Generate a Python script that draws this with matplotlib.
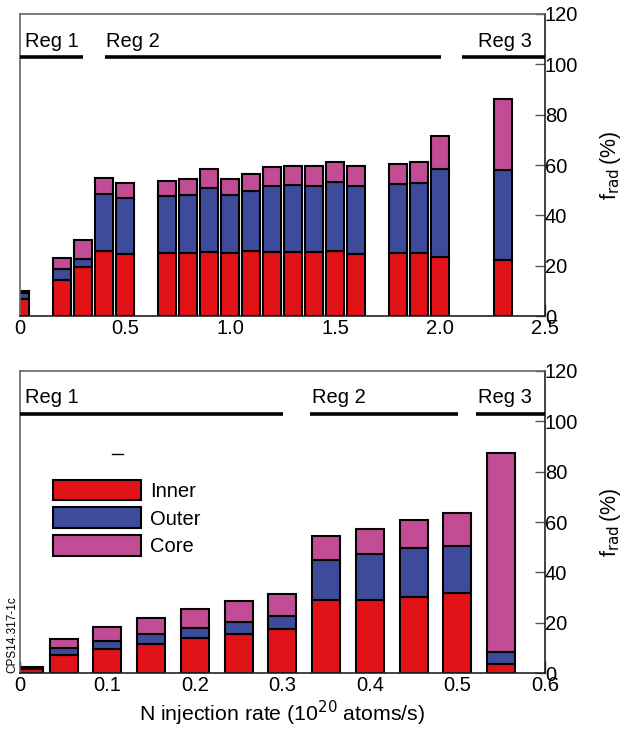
import matplotlib
matplotlib.use("Agg")
import matplotlib.pyplot as plt
import numpy as np
from matplotlib.patches import Patch

plt.rcParams['font.family'] = ['Liberation Sans', 'DejaVu Sans']

# ---------- data: top panel ----------
top_x = [0.0, 0.2, 0.3, 0.4, 0.5, 0.7, 0.8, 0.9, 1.0, 1.1, 1.2, 1.3, 1.4, 1.5, 1.6, 1.8, 1.9, 2.0, 2.3]
top_inner = [6.6, 14.3, 19.6, 25.8, 24.8, 24.9, 25.2, 25.3, 24.9, 25.7, 25.3, 25.6, 25.4, 26.0, 24.6, 24.9, 25.1, 23.4, 22.1]
top_outer = [2.4, 4.5, 3.1, 22.7, 22.1, 22.8, 23.0, 25.7, 23.2, 24.0, 26.2, 26.5, 26.3, 27.1, 26.9, 27.4, 27.9, 35.1, 36.0]
top_core = [0.9, 4.4, 7.4, 6.5, 6.0, 6.1, 6.4, 7.4, 6.5, 6.7, 7.7, 7.6, 8.0, 8.0, 8.2, 8.1, 8.3, 12.9, 28.0]

# ---------- data: bottom panel ----------
bot_x = [0.01, 0.05, 0.10, 0.15, 0.20, 0.25, 0.30, 0.35, 0.40, 0.45, 0.50, 0.55]
bot_inner = [1.6, 7.4, 9.7, 11.8, 13.9, 15.6, 17.5, 28.9, 28.9, 30.4, 32.0, 3.7]
bot_outer = [0.5, 2.7, 3.1, 3.7, 4.2, 4.7, 5.3, 16.1, 18.4, 19.4, 18.5, 4.8]
bot_core = [0.5, 3.7, 5.5, 6.5, 7.3, 8.4, 8.8, 9.6, 10.0, 11.0, 12.9, 79.0]

top_xticks = [0, 0.5, 1.0, 1.5, 2.0, 2.5]
top_xticklabels = ['0', '0.5', '1.0', '1.5', '2.0', '2.5']
bot_xticks = [0, 0.1, 0.2, 0.3, 0.4, 0.5, 0.6]
bot_xticklabels = ['0', '0.1', '0.2', '0.3', '0.4', '0.5', '0.6']
yticks = [0, 20, 40, 60, 80, 100, 120]

top_regions = [("Reg 1", 0.0, 0.30, 0.024), ("Reg 2", 0.405, 2.003, 0.41), ("Reg 3", 2.106, 2.5, 2.18)]
bot_regions = [("Reg 1", 0.0, 0.301, 0.006), ("Reg 2", 0.331, 0.501, 0.334), ("Reg 3", 0.521, 0.6, 0.523)]

series_names = ['Inner', 'Outer', 'Core']
c_inner = '#E11218'
c_outer = '#3E4B9B'
c_core = '#C24D95'
colors = [c_inner, c_outer, c_core]

FS = 14.5

fig = plt.figure(figsize=(6.24, 7.29), dpi=100)
ax1 = fig.add_axes([0.032, 0.5665, 0.8413, 0.4143])
ax2 = fig.add_axes([0.032, 0.0764, 0.8413, 0.4151])


def draw_bars(ax, x, inner, outer, core, width):
    inner = np.array(inner); outer = np.array(outer); core = np.array(core)
    kw = dict(width=width, edgecolor='black', linewidth=1.5, zorder=2)
    ax.bar(x, inner, color=c_inner, **kw)
    ax.bar(x, outer, bottom=inner, color=c_outer, **kw)
    ax.bar(x, core, bottom=inner + outer, color=c_core, **kw)


def style(ax, xlim, xticks, xlabels, regions):
    ax.set_xlim(*xlim)
    ax.set_ylim(0, 120)
    ax.set_xticks(xticks)
    ax.set_xticklabels(xlabels, fontsize=FS)
    ax.tick_params(axis='x', direction='in', length=8.5, width=1, color='#222222', pad=2, bottom=True, top=False)
    ax.yaxis.tick_right()
    ax.set_yticks(yticks)
    ax.set_yticklabels([str(v) for v in yticks], fontsize=FS)
    ax.tick_params(axis='y', direction='in', length=7, width=1, color='#555555', pad=0, left=False, right=True)
    ax.yaxis.set_label_position('right')
    ax.set_ylabel(r'f$_{\rm rad}\,$(%)', fontsize=15.5, labelpad=14)
    for s in ['left', 'top']:
        ax.spines[s].set_color('#666666')
        ax.spines[s].set_linewidth(1.2)
    for s in ['right', 'bottom']:
        ax.spines[s].set_color('#222222')
        ax.spines[s].set_linewidth(1.2)
    for name, x0, x1, xt in regions:
        ax.plot([x0, x1], [103, 103], color='black', lw=2.6, solid_capstyle='butt', zorder=3, clip_on=False)
        ax.text(xt, 107, name, fontsize=FS, ha='left', va='baseline')


draw_bars(ax1, top_x, top_inner, top_outer, top_core, 0.083)
style(ax1, (0, 2.5), top_xticks, top_xticklabels, top_regions)

draw_bars(ax2, bot_x, bot_inner, bot_outer, bot_core, 0.032)
style(ax2, (0, 0.6), bot_xticks, bot_xticklabels, bot_regions)
ax2.set_xlabel(r'N injection rate (10$^{20}$ atoms/s)', fontsize=15.3, labelpad=3)

# small stray dash in bottom panel
ax2.plot([0.105, 0.118], [86.8, 86.8], color='black', lw=1)

handles = [Patch(facecolor=c, edgecolor='black', linewidth=1.5) for c in colors]
ax2.legend(handles, series_names, loc='upper left', bbox_to_anchor=(0.062, 0.64),
           frameon=False, fontsize=FS, handlelength=4.4, handleheight=1.2,
           handletextpad=0.45, labelspacing=0.33, borderaxespad=0, borderpad=0)

fig.text(0.029, 0.077, 'CPS14.317-1c', rotation=90, fontsize=8.5, ha='right', va='bottom')

fig.savefig('out.png', dpi=100)
